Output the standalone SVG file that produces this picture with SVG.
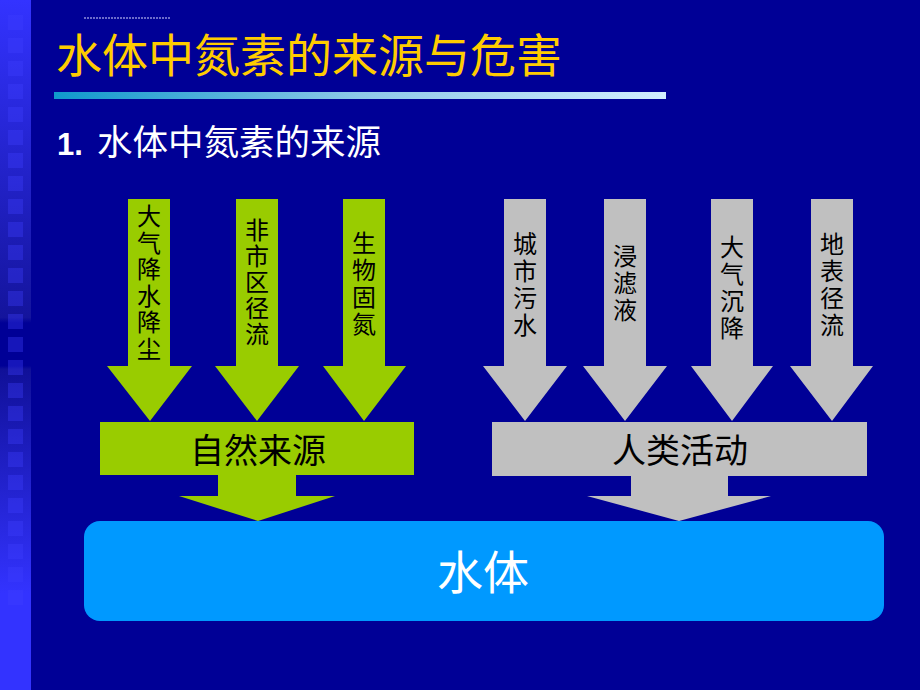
<svg xmlns="http://www.w3.org/2000/svg" width="920" height="690" viewBox="0 0 920 690">
<defs>
<linearGradient id="strip" x1="0" y1="0" x2="0" y2="690" gradientUnits="userSpaceOnUse">
<stop offset="0" stop-color="#3333ff"/>
<stop offset="0.46" stop-color="#14149c"/>
<stop offset="0.468" stop-color="#000096"/>
<stop offset="0.53" stop-color="#000096"/>
<stop offset="0.535" stop-color="#101098"/>
<stop offset="0.86" stop-color="#3333ff"/>
<stop offset="1" stop-color="#3333ff"/>
</linearGradient>
<linearGradient id="bar" x1="0" y1="0" x2="1" y2="0">
<stop offset="0" stop-color="#0f99cc"/>
<stop offset="0.5" stop-color="#8ec8e8"/>
<stop offset="1" stop-color="#d2eeff"/>
</linearGradient>
<style>
.cjk{font-family:"Liberation Sans","Noto Sans CJK SC",sans-serif;}
.lab{font-size:24px;fill:#000;text-anchor:middle;}
.green{fill:#99cc00;}
.gray{fill:#c0c0c0;}
.sqr{fill:#4040ff;fill-opacity:0.35;}
</style>
</defs>
<rect x="0" y="0" width="920" height="690" fill="#000096"/>
<rect x="0" y="0" width="31" height="690" fill="url(#strip)"/>
<g id="squares">
<rect class="sqr" x="8" y="15" width="15" height="15"/>
<rect class="sqr" x="8" y="38" width="15" height="15"/>
<rect class="sqr" x="8" y="61" width="15" height="15"/>
<rect class="sqr" x="8" y="84" width="15" height="15"/>
<rect class="sqr" x="8" y="107" width="15" height="15"/>
<rect class="sqr" x="8" y="130" width="15" height="15"/>
<rect class="sqr" x="8" y="153" width="15" height="15"/>
<rect class="sqr" x="8" y="176" width="15" height="15"/>
<rect class="sqr" x="8" y="199" width="15" height="15"/>
<rect class="sqr" x="8" y="222" width="15" height="15"/>
<rect class="sqr" x="8" y="245" width="15" height="15"/>
<rect class="sqr" x="8" y="268" width="15" height="15"/>
<rect class="sqr" x="8" y="291" width="15" height="15"/>
<rect class="sqr" x="8" y="314" width="15" height="15"/>
<rect class="sqr" x="8" y="337" width="15" height="15"/>
<rect class="sqr" x="8" y="360" width="15" height="15"/>
<rect class="sqr" x="8" y="383" width="15" height="15"/>
<rect class="sqr" x="8" y="406" width="15" height="15"/>
<rect class="sqr" x="8" y="429" width="15" height="15"/>
<rect class="sqr" x="8" y="452" width="15" height="15"/>
<rect class="sqr" x="8" y="475" width="15" height="15"/>
<rect class="sqr" x="8" y="498" width="15" height="15"/>
<rect class="sqr" x="8" y="521" width="15" height="15"/>
<rect class="sqr" x="8" y="544" width="15" height="15"/>
<rect class="sqr" x="8" y="567" width="15" height="15"/>
<rect class="sqr" x="8" y="590" width="15" height="15"/>
</g>
<line x1="84" y1="18" x2="170" y2="18" stroke="#d8d8ff" stroke-width="1" stroke-dasharray="2 1"/>
<text class="cjk" x="56" y="72" font-size="46" fill="#ffcc00">水体中氮素的来源与危害</text>
<rect x="54" y="92" width="612" height="7" fill="url(#bar)"/>
<text x="57" y="155" font-family="Liberation Sans, Arial, sans-serif" font-size="31" font-weight="bold" fill="#ffffff">1.</text>
<text class="cjk" x="97" y="155" font-size="35.5" fill="#ffffff">水体中氮素的来源</text>

<g id="src-dqjsjc">
<polygon class="green" points="128,199 170,199 170,366 192,366 150,421 107,366 128,366"/>
<text class="cjk lab"><tspan x="149" y="225">大</tspan><tspan x="149" y="251.5">气</tspan><tspan x="149" y="278">降</tspan><tspan x="149" y="304.5">水</tspan><tspan x="149" y="331">降</tspan><tspan x="149" y="357.5">尘</tspan></text>
</g>
<g id="src-fsqjl">
<polygon class="green" points="236,199 278,199 278,366 299,366 257,421 215,366 236,366"/>
<text class="cjk lab"><tspan x="257" y="239">非</tspan><tspan x="257" y="265">市</tspan><tspan x="257" y="291">区</tspan><tspan x="257" y="317">径</tspan><tspan x="257" y="343">流</tspan></text>
</g>
<g id="src-swgd">
<polygon class="green" points="343,199 385,199 385,366 406,366 364,421 323,366 343,366"/>
<text class="cjk lab"><tspan x="364" y="252">生</tspan><tspan x="364" y="279">物</tspan><tspan x="364" y="306">固</tspan><tspan x="364" y="333">氮</tspan></text>
</g>
<g id="src-csws">
<polygon class="gray" points="504,199 546,199 546,366 567,366 525,421 483,366 504,366"/>
<text class="cjk lab"><tspan x="525" y="253">城</tspan><tspan x="525" y="280">市</tspan><tspan x="525" y="307">污</tspan><tspan x="525" y="334">水</tspan></text>
</g>
<g id="src-jly">
<polygon class="gray" points="604,199 646,199 646,366 667,366 625,421 583,366 604,366"/>
<text class="cjk lab"><tspan x="625" y="265">浸</tspan><tspan x="625" y="292">滤</tspan><tspan x="625" y="319">液</tspan></text>
</g>
<g id="src-dqcj">
<polygon class="gray" points="711,199 753,199 753,366 773,366 732,421 691,366 711,366"/>
<text class="cjk lab"><tspan x="732" y="256">大</tspan><tspan x="732" y="283">气</tspan><tspan x="732" y="310">沉</tspan><tspan x="732" y="337">降</tspan></text>
</g>
<g id="src-dbjl">
<polygon class="gray" points="811,199 853,199 853,366 873,366 832,421 790,366 811,366"/>
<text class="cjk lab"><tspan x="832" y="253">地</tspan><tspan x="832" y="280">表</tspan><tspan x="832" y="307">径</tspan><tspan x="832" y="334">流</tspan></text>
</g>

<g id="connectors">
<polygon class="green" points="218,475 296,475 296,496 335,496 258,521 179,496 218,496"/>
<polygon class="gray" points="631,475 728,475 728,496 771,496 679,521 587,496 631,496"/>
</g>

<g id="natural">
<rect class="green" x="100" y="422" width="314" height="53"/>
<text class="cjk" x="258" y="463" font-size="34" text-anchor="middle" fill="#000">自然来源</text>
</g>
<g id="human">
<rect class="gray" x="492" y="422" width="375" height="54"/>
<text class="cjk" x="680" y="463" font-size="34" text-anchor="middle" fill="#000">人类活动</text>
</g>
<g id="water">
<rect x="84" y="521" width="800" height="100" rx="16" fill="#0099ff"/>
<text class="cjk" x="483" y="589" font-size="46" text-anchor="middle" fill="#ffffff">水体</text>
</g>
</svg>
